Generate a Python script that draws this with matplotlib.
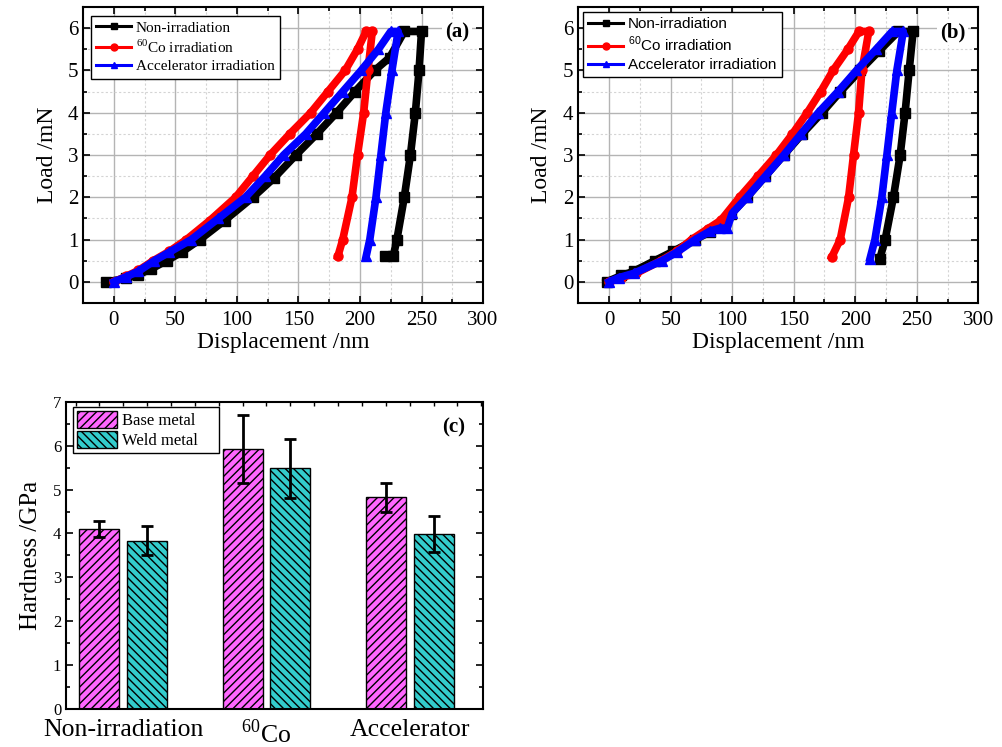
import matplotlib
matplotlib.use("Agg")
import matplotlib.pyplot as plt
from matplotlib.lines import Line2D
from matplotlib.ticker import MultipleLocator
import numpy as np

plt.rcParams['font.family'] = ['Liberation Serif', 'DejaVu Serif']
plt.rcParams['mathtext.fontset'] = 'custom'
plt.rcParams['mathtext.rm'] = 'Liberation Serif'
plt.rcParams['mathtext.sf'] = 'Liberation Sans'
plt.rcParams['hatch.linewidth'] = 1.0

# ---- panel (a) load-displacement, base metal ----
a_non_x = [-6, 10, 20, 30, 43, 55, 70, 90, 113, 130, 148, 165, 181, 196, 212, 224, 236, 250,
           248, 245, 241, 236, 230, 227, 220]
a_non_y = [0, 0.08, 0.17, 0.3, 0.5, 0.7, 1.0, 1.45, 2.0, 2.45, 3.0, 3.5, 4.0, 4.5, 5.0, 5.3, 5.92, 5.92,
           5, 4, 3, 2, 1, 0.6, 0.6]
a_co_x = [0, 10, 20, 32, 45, 59, 78, 99, 113, 127, 143, 160, 174, 188, 198, 205, 210,
          206.5, 203, 198, 193.5, 186, 182]
a_co_y = [0, 0.13, 0.27, 0.5, 0.72, 1.0, 1.45, 2.0, 2.5, 3.0, 3.5, 4.0, 4.5, 5.0, 5.5, 5.92, 5.92,
          5, 4, 3, 2, 1, 0.6]
a_acc_x = [0, 10, 20, 33, 45, 63, 85, 107, 123, 138, 156, 171, 186, 201, 215, 225, 231,
           226, 221, 217, 213, 208, 205]
a_acc_y = [0, 0.12, 0.25, 0.5, 0.7, 1.0, 1.5, 2.0, 2.5, 3.0, 3.5, 4.0, 4.5, 5.0, 5.5, 5.92, 5.92,
           5, 4, 3, 2, 1, 0.6]

# ---- panel (b) load-displacement, weld metal ----
b_non_x = [-2, 10, 20, 37, 52, 70, 82, 90, 99, 112, 127, 142, 157, 173, 188, 204, 219, 235, 247,
           243.8, 240.5, 236.5, 231, 224.3, 220]
b_non_y = [0, 0.15, 0.25, 0.5, 0.72, 1.0, 1.18, 1.3, 1.6, 2.0, 2.5, 3.0, 3.5, 4.0, 4.5, 5.0, 5.45, 5.92, 5.92,
           5, 4, 3, 2, 1, 0.55]
b_co_x = [0, 10, 22, 42, 55, 67, 80, 91, 106, 121, 136, 149, 161, 172, 182, 194, 203, 211,
          205.4, 202.7, 198.6, 194.6, 187.8, 181]
b_co_y = [0, 0.1, 0.2, 0.5, 0.72, 1.0, 1.25, 1.46, 2.0, 2.5, 3.0, 3.5, 4.0, 4.5, 5.0, 5.5, 5.92, 5.92,
          5, 4, 3, 2, 1, 0.59]
b_acc_x = [0, 8, 20, 43, 55, 70, 82, 90, 96, 100, 112, 127, 142, 156, 170, 186, 201, 217, 230, 239,
           233.8, 229.7, 225.7, 221.6, 216, 212]
b_acc_y = [0, 0.1, 0.2, 0.5, 0.7, 1.0, 1.2, 1.27, 1.27, 1.62, 2.0, 2.5, 3.0, 3.5, 4.0, 4.5, 5.0, 5.5, 5.92, 5.92,
           5, 4, 3, 2, 1, 0.55]

# ---- panel (c) hardness ----
groups = ['Non-irradiation', r'$^{60}$Co', 'Accelerator']
base_hard = [4.10, 5.92, 4.83]
base_err = [0.18, 0.77, 0.33]
weld_hard = [3.84, 5.48, 3.99]
weld_err = [0.32, 0.67, 0.40]

fig = plt.figure(figsize=(10.03, 7.47), dpi=100)


def curve_panel(ax, curves, label, legfont, legpos, ylpad):
    for (x, y), col, mk in zip(curves, ['black', 'red', 'blue'], ['s', 'o', '^']):
        ax.plot(x, y, color=col, lw=5.5, marker=mk, ms=6.5, solid_joinstyle='round')
    ax.set_xlim(-25, 300)
    ax.set_ylim(-0.5, 6.5)
    ax.xaxis.set_major_locator(MultipleLocator(50))
    ax.xaxis.set_minor_locator(MultipleLocator(25))
    ax.yaxis.set_major_locator(MultipleLocator(1))
    ax.yaxis.set_minor_locator(MultipleLocator(0.5))
    ax.set_axisbelow(True)
    ax.grid(which='major', color='#b4b4b4', lw=1.0, ls='-')
    ax.grid(which='minor', color='#d4d4d4', lw=0.8, ls=(0, (2, 2)))
    ax.tick_params(which='both', direction='in', top=True, right=True, width=1.2)
    ax.tick_params(which='major', length=5, labelsize=15)
    ax.tick_params(axis='x', which='major', pad=6)
    ax.tick_params(which='minor', length=3)
    for s in ax.spines.values():
        s.set_linewidth(1.5)
    ax.set_xlabel('Displacement /nm', fontsize=17, labelpad=1)
    ax.set_ylabel('Load /mN', fontsize=17, labelpad=ylpad)
    ax.text(0.935, 0.915, label, transform=ax.transAxes, ha='center', va='center',
            fontsize=15, fontweight='bold',
            bbox=dict(facecolor='white', edgecolor='none', pad=2))
    if legfont == 'sans':
        co_lab = r'$^{\mathsf{60}}$Co irradiation'
        fam = ['Liberation Sans']
    else:
        co_lab = r'$^{60}$Co irradiation'
        fam = ['Liberation Serif']
    handles = [Line2D([], [], color='black', lw=2.2, marker='s', ms=5),
               Line2D([], [], color='red', lw=2.2, marker='o', ms=5),
               Line2D([], [], color='blue', lw=2.2, marker='^', ms=5)]
    leg = ax.legend(handles, ['Non-irradiation', co_lab, 'Accelerator irradiation'],
                    loc='upper left', bbox_to_anchor=legpos, borderaxespad=0,
                    prop={'family': fam, 'size': 11}, handlelength=2.3,
                    fancybox=False, edgecolor='black', framealpha=1,
                    borderpad=0.35, labelspacing=0.25, handletextpad=0.3)
    leg.get_frame().set_linewidth(1.0)


ax_a = fig.add_axes([0.0828, 0.5944, 0.3988, 0.3963])
curve_panel(ax_a, [(a_non_x, a_non_y), (a_co_x, a_co_y), (a_acc_x, a_acc_y)], '(a)', 'serif',
            (0.019, 0.971), 7)

ax_b = fig.add_axes([0.5766, 0.5944, 0.3988, 0.3963])
curve_panel(ax_b, [(b_non_x, b_non_y), (b_co_x, b_co_y), (b_acc_x, b_acc_y)], '(b)', 'sans',
            (0.011, 0.984), 8)

# ---- (c) bars ----
ax_c = fig.add_axes([0.0658, 0.0505, 0.4155, 0.4118])
pos = np.arange(len(groups))
w = 0.28
ax_c.bar(pos - 0.167, base_hard, w, color='#ff66ff', edgecolor='black', lw=1.0, hatch='////',
         label='Base metal    ', zorder=2)
ax_c.bar(pos + 0.167, weld_hard, w, color='#33cccc', edgecolor='black', lw=1.0, hatch='\\\\\\\\',
         label='Weld metal    ', zorder=2)
ax_c.errorbar(pos - 0.167, base_hard, yerr=base_err, fmt='none', ecolor='black', elinewidth=2,
              capsize=4, capthick=2, zorder=3)
ax_c.errorbar(pos + 0.167, weld_hard, yerr=weld_err, fmt='none', ecolor='black', elinewidth=2,
              capsize=4, capthick=2, zorder=3)
ax_c.set_xlim(-0.4, 2.51)
ax_c.set_ylim(0, 7)
ax_c.set_xticks(pos)
ax_c.set_xticklabels(groups, fontsize=18.5)
ax_c.xaxis.set_minor_locator(MultipleLocator(1 / 6))
ax_c.yaxis.set_major_locator(MultipleLocator(1))
ax_c.yaxis.set_minor_locator(MultipleLocator(0.5))
ax_c.tick_params(axis='y', which='both', direction='in', right=True, width=1.2, labelsize=12)
ax_c.tick_params(axis='y', which='major', length=5)
ax_c.tick_params(axis='y', which='minor', length=3)
ax_c.tick_params(axis='x', which='both', direction='in', bottom=False, top=True, length=3, width=1.0, pad=7)
for s in ax_c.spines.values():
    s.set_linewidth(1.5)
ax_c.set_ylabel('Hardness /GPa', fontsize=18, labelpad=8)
ax_c.text(0.93, 0.915, '(c)', transform=ax_c.transAxes, ha='center', va='center',
          fontsize=15, fontweight='bold')
leg_c = ax_c.legend(loc='upper left', bbox_to_anchor=(0.0175, 0.983), borderaxespad=0,
                    fontsize=12, fancybox=False, edgecolor='black', framealpha=1,
                    handlelength=2.4, handleheight=1.2, borderpad=0.25, labelspacing=0.1,
                    handletextpad=0.3)
leg_c.get_frame().set_linewidth(1.0)

fig.savefig('out.png', dpi=100)
